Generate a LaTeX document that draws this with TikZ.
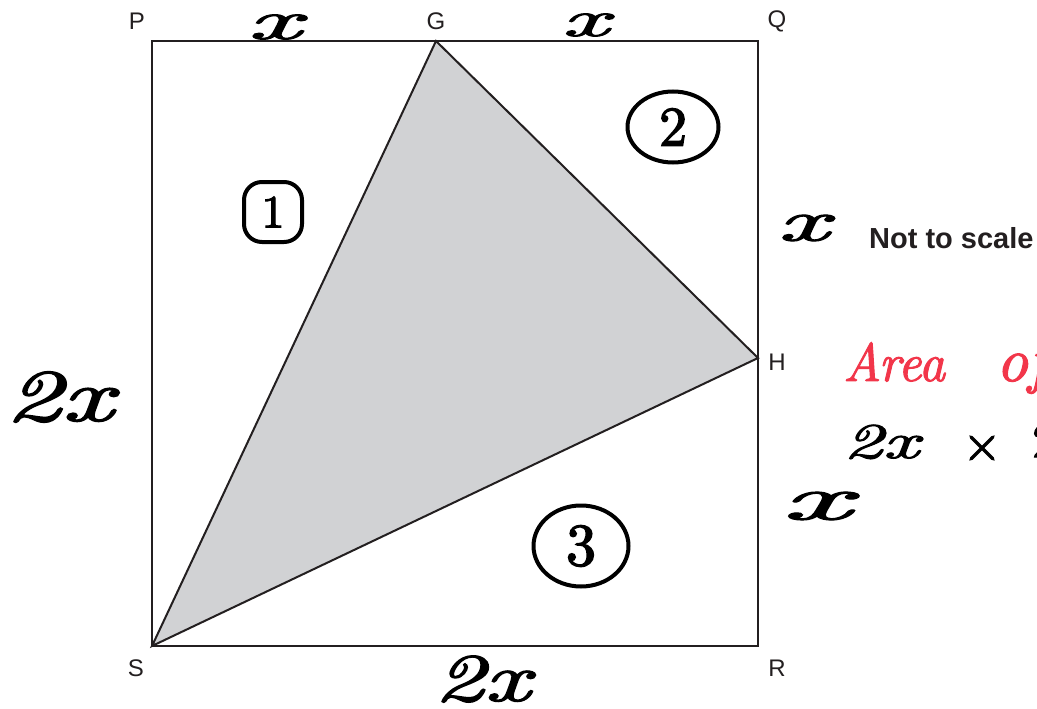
\documentclass[tikz,border=0pt]{standalone}
\usepackage{fontspec}
\usetikzlibrary{shapes.geometric}
\setmainfont{Liberation Sans}
\newfontfamily\hand[FakeBold=1.8]{lmroman10-italic.otf}
\newfontfamily\handup[FakeBold=2.5]{lmroman10-regular.otf}
\definecolor{ink}{HTML}{231F20}
\definecolor{greyfill}{HTML}{D1D2D4}
\definecolor{redink}{HTML}{F2364A}
\tikzset{
  edge/.style={draw=ink, line width=2pt, line join=miter},
  lab/.style={text=ink, font=\fontsize{24}{24}\selectfont, inner sep=0pt},
  hw/.style={text=black, inner sep=0pt},
  ring/.style={draw=black, line width=4pt, inner sep=0pt},
}
\begin{document}
\begin{tikzpicture}[x=1pt,y=-1pt]
\useasboundingbox[fill=white] (0,0) rectangle (1037,709);
% vertices
\coordinate (P) at (152,41);
\coordinate (Q) at (758,41);
\coordinate (R) at (758,646);
\coordinate (S) at (152,646);
\coordinate (G) at (436,41);
\coordinate (H) at (758,358);
% shaded triangle
\fill[greyfill] (S) -- (G) -- (H) -- cycle;
\draw[edge] (P) -- (Q) -- (R) -- (S) -- cycle;
\draw[edge] (S) -- (G) -- (H) -- cycle;
% vertex labels
\node[lab] (lP) at (137,21) {P};
\node[lab] (lG) at (436,21) {G};
\node[lab] (lQ) at (777,21) {Q};
\node[lab] (lH) at (777,362) {H};
\node[lab] (lS) at (136,668) {S};
\node[lab] (lR) at (777,668) {R};
% not to scale
\node[text=ink, font=\bfseries\fontsize{29}{29}\selectfont, anchor=west, inner sep=0pt] (nts) at (869,238) {Not to scale};
% handwritten side labels
\node[hw, font=\hand\fontsize{25}{25}\selectfont] (x1) at (274,27) {\scalebox{4.6}[2.2]{x}};
\node[hw, font=\hand\fontsize{23}{23}\selectfont] (x2) at (585,25) {\scalebox{4.4}[2.2]{x}};
\node[hw, font=\hand\fontsize{58}{58}\selectfont] (x3) at (803,228) {\scalebox{1.9}[1]{x}};
\node[hw, font=\hand\fontsize{62}{62}\selectfont] (x4) at (816,506) {\scalebox{2.4}[1]{x}};
\node[hw, font=\hand\fontsize{74}{74}\selectfont] (l2x) at (59,397) {\scalebox{1.5}[1]{2x}};
\node[hw, font=\hand\fontsize{34}{34}\selectfont] (b2x) at (482,679) {\scalebox{2.9}[2]{2x}};
% circled region numbers
\node[ring, rounded corners=18pt, minimum width=58pt, minimum height=60pt, font=\handup\fontsize{46}{46}\selectfont] (c1) at (273,212) {1};
\node[ring, ellipse, minimum width=91pt, minimum height=71pt, font=\handup\fontsize{56}{56}\selectfont] (c2) at (673,127) {2};
\node[ring, ellipse, minimum width=95pt, minimum height=81pt, font=\handup\fontsize{60}{60}\selectfont] (c3) at (581,546) {3};
% working
\node[hw, text=redink, font=\hand\fontsize{54}{54}\selectfont, anchor=base west] (area) at (843,381) {\scalebox{0.95}[1]{Area}};
\node[hw, text=redink, font=\hand\fontsize{62}{62}\selectfont, anchor=base west] (of) at (996,381) {of};
\node[hw, font=\hand\fontsize{50}{50}\selectfont, anchor=base west] (calc) at (843,458) {\scalebox{1.55}[1]{2x}};
\node[hw, font=\handup\fontsize{50}{50}\selectfont, anchor=center] (times) at (982,448) {×};
\node[hw, font=\handup\fontsize{48}{48}\selectfont, anchor=base west] (two) at (1032,457) {2};
\end{tikzpicture}
\end{document}
